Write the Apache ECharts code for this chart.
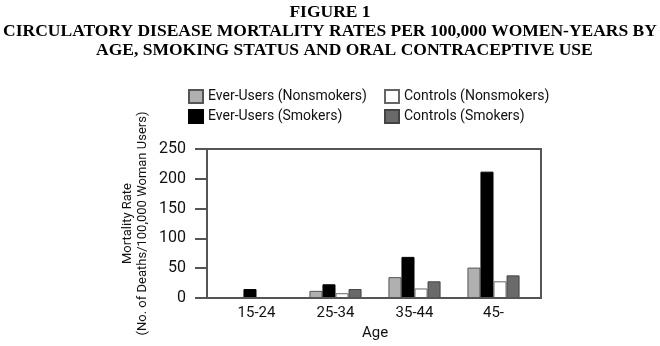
<!DOCTYPE html>
<html><head><meta charset="utf-8">
<script src="https://cdn.jsdelivr.net/npm/echarts@6/dist/echarts.min.js"></script>
<style>html,body{margin:0;padding:0;background:#fff}#c{width:660px;height:346px}</style>
</head><body><div id="c"></div>
<script>
const categories = ['15-24', '25-34', '35-44', '45-'];
const everNonsmokers = [null, 12, 35, 51];
const everSmokers = [15, 23, 69, 212];
const controlsNonsmokers = [null, 8, 16, 28];
const controlsSmokers = [null, 15, 28, 38];
const yTicks = [0, 50, 100, 150, 200, 250];

const SANS = "Roboto,'Liberation Sans',sans-serif";
const SERIF = "'Liberation Serif','Times New Roman',serif";

const chart = echarts.init(document.getElementById('c'), null, {renderer: 'canvas'});
const titleStyle = {fontFamily: SERIF, fontWeight: 'bold', fontSize: 17.5, color: '#000'};
chart.setOption({
  animation: false,
  backgroundColor: '#fff',
  title: [
    {text: 'FIGURE 1', left: 'center', top: 3, padding: 0, textStyle: titleStyle},
    {text: 'CIRCULATORY DISEASE MORTALITY RATES PER 100,000 WOMEN-YEARS BY', left: 'center', top: 22, padding: 0, textStyle: titleStyle},
    {text: 'AGE, SMOKING STATUS AND ORAL CONTRACEPTIVE USE', left: 96, top: 41, padding: 0, textStyle: titleStyle}
  ],
  legend: [
    {orient: 'vertical', left: 188, top: 89, padding: 0, itemGap: 5, itemWidth: 14, itemHeight: 13, icon: 'rect',
     data: ['Ever-Users (Nonsmokers)', 'Ever-Users (Smokers)'],
     textStyle: {fontFamily: SANS, fontSize: 14, color: '#111'}},
    {orient: 'vertical', left: 384, top: 89, padding: 0, itemGap: 5, itemWidth: 14, itemHeight: 13, icon: 'rect',
     data: ['Controls (Nonsmokers)', 'Controls (Smokers)'],
     textStyle: {fontFamily: SANS, fontSize: 14, color: '#111'}}
  ],
  grid: {left: 217, right: 127, top: 149, bottom: 48, outerBoundsMode: 'none', containLabel: false},
  xAxis: {
    type: 'category', data: categories,
    axisLine: {show: false}, axisTick: {show: false},
    axisLabel: {fontFamily: SANS, fontSize: 15, color: '#111', margin: 8},
    name: 'Age', nameLocation: 'middle', nameGap: 28,
    nameTextStyle: {fontFamily: SANS, fontSize: 15, color: '#111'}
  },
  yAxis: {
    type: 'value', min: 0, max: 250, interval: 50, offset: 10,
    splitLine: {show: false},
    axisLine: {show: false},
    axisTick: {show: true, length: 12, lineStyle: {color: '#555', width: 2}},
    axisLabel: {fontFamily: SANS, fontSize: 16, color: '#111', margin: 21,
      formatter: v => yTicks.includes(v) ? String(v) : ''},
    name: 'Mortality Rate\n(No. of Deaths/100,000 Woman Users)',
    nameLocation: 'middle', nameRotate: 90, nameGap: 57,
    nameTextStyle: {fontFamily: SANS, fontSize: 13, color: '#111', lineHeight: 15, align: 'center'}
  },
  series: [
    {name: 'Ever-Users (Nonsmokers)', type: 'bar', data: everNonsmokers, barGap: '0%', barCategoryGap: '34%',
     itemStyle: {color: '#b0b0b0', borderColor: '#555', borderWidth: 1}},
    {name: 'Ever-Users (Smokers)', type: 'bar', data: everSmokers,
     itemStyle: {color: '#000', borderColor: '#000', borderWidth: 1}},
    {name: 'Controls (Nonsmokers)', type: 'bar', data: controlsNonsmokers,
     itemStyle: {color: '#fff', borderColor: '#666', borderWidth: 1}},
    {name: 'Controls (Smokers)', type: 'bar', data: controlsSmokers,
     itemStyle: {color: '#6a6a6a', borderColor: '#444', borderWidth: 1}}
  ],
  graphic: [
    {type: 'rect', shape: {x: 207, y: 149, width: 334, height: 149}, z: 100,
     style: {fill: null, stroke: '#555', lineWidth: 2}, silent: true}
  ]
});
</script></body></html>
